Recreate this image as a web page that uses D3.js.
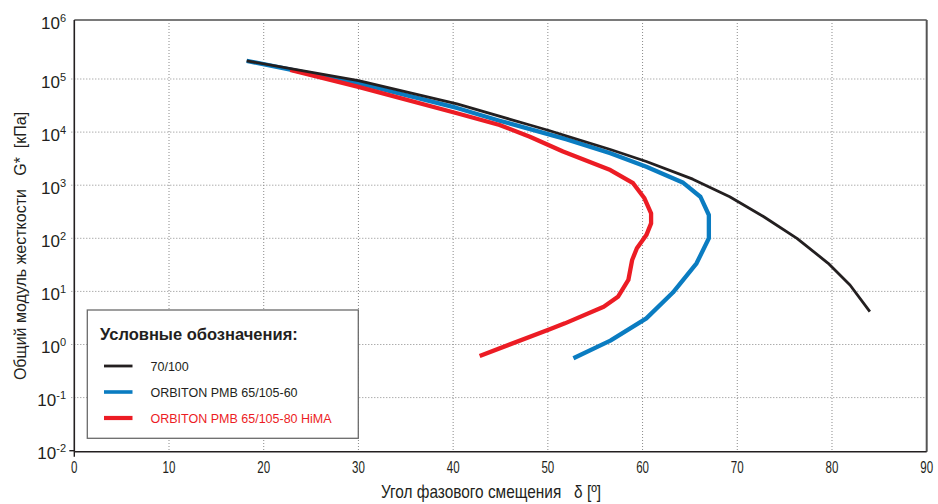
<!DOCTYPE html>
<html>
<head>
<meta charset="utf-8">
<script src="https://cdn.jsdelivr.net/npm/d3@7"></script>
<style>
  body { margin: 0; background: #fff; }
  svg { display: block; }
  text { font-family: "Liberation Sans", Arial, sans-serif; fill: #231f20; }
</style>
</head>
<body>
<svg id="chart" width="938" height="504"></svg>
<script>
// Phase angle δ [°] and complex modulus G* [kPa] for each binder
const seriesNames = ["70/100", "ORBITON PMB 65/105-60", "ORBITON PMB 65/105-80 HiMA"];
const seriesColors = ["#231f20", "#0a7cc1", "#ec1c24"];

const delta70100 = [18.2, 30.0, 40.4, 48.1, 50.2, 56.6, 60.4, 65.3, 69.2, 72.8, 76.3, 79.6, 81.9, 84.0];
const g70100     = [2.2e5, 9.3e4, 3.4e4, 1.36e4, 1.06e4, 4.7e3, 2.8e3, 1.3e3, 607, 255, 100, 33.8, 13.2, 4.15];

const deltaPmb60 = [18.2, 29.9, 40.4, 44.9, 52.0, 56.6, 60.4, 64.3, 66.1, 67.0, 67.0, 65.7, 63.2, 60.4, 56.6, 52.7];
const gPmb60     = [2.2e5, 8.4e4, 2.85e4, 1.64e4, 7.3e3, 4.0e3, 2.23e3, 1.11e3, 607, 275, 100, 33.8, 9.5, 3.1, 1.18, 0.55];

const deltaHima  = [22.8, 29.9, 40.4, 44.9, 48.1, 51.6, 56.6, 59.0, 60.2, 60.9, 60.9, 60.4, 59.4, 58.9, 58.5, 57.4, 55.9, 51.8, 50.2, 42.8];
const gHima      = [1.48e5, 7.2e4, 2.26e4, 1.36e4, 8.2e3, 4.3e3, 1.93e3, 1.09e3, 566, 296, 191, 115, 65, 39, 16.4, 7.9, 5.15, 2.5, 1.93, 0.61];

const xTicks = [0, 10, 20, 30, 40, 50, 60, 70, 80, 90];
const yExponents = [-2, -1, 0, 1, 2, 3, 4, 5, 6];

const xTitle = "Угол фазового смещения   δ [º]";
const yTitle = "Общий модуль жесткости   G*  [кПа]";
const legendTitle = "Условные обозначения:";

const svg = d3.select("#chart");
const frame = { left: 74.3, right: 926.7, top: 20, bottom: 451.7 };

const x = d3.scaleLinear().domain([0, 90]).range([frame.left, frame.right]);
const y = d3.scaleLog().domain([1e-2, 1e6]).range([450.7, 25.9]);

// dotted grid
const grid = svg.append("g").attr("stroke", "#8a8a8a").attr("stroke-width", 1).attr("stroke-dasharray", "1,2");
grid.selectAll("line.v").data(xTicks.filter(d => d > 0 && d < 90)).join("line")
  .attr("x1", d => x(d)).attr("x2", d => x(d))
  .attr("y1", frame.top).attr("y2", frame.bottom);
grid.selectAll("line.h").data(yExponents.filter(e => e > -2 && e < 6)).join("line")
  .attr("x1", frame.left - 3).attr("x2", frame.right)
  .attr("y1", e => y(Math.pow(10, e))).attr("y2", e => y(Math.pow(10, e)));

// frame: grey top/right, black axes left/bottom
svg.append("line").attr("x1", frame.left).attr("x2", frame.right).attr("y1", frame.top).attr("y2", frame.top)
  .attr("stroke", "#7a7a7a").attr("stroke-width", 2);
svg.append("line").attr("x1", frame.right).attr("x2", frame.right).attr("y1", frame.top).attr("y2", frame.bottom)
  .attr("stroke", "#555").attr("stroke-width", 2);
svg.append("line").attr("x1", frame.left).attr("x2", frame.left).attr("y1", frame.top).attr("y2", frame.bottom)
  .attr("stroke", "#231f20").attr("stroke-width", 1.6);
svg.append("line").attr("x1", frame.left).attr("x2", frame.right).attr("y1", frame.bottom).attr("y2", frame.bottom)
  .attr("stroke", "#231f20").attr("stroke-width", 1.6);
// corner ticks
svg.append("line").attr("x1", x(0)).attr("x2", x(0)).attr("y1", frame.bottom).attr("y2", frame.bottom + 5)
  .attr("stroke", "#231f20").attr("stroke-width", 1.4);
svg.append("line").attr("x1", frame.left - 5).attr("x2", frame.left).attr("y1", y(1e-2)).attr("y2", y(1e-2))
  .attr("stroke", "#231f20").attr("stroke-width", 1.4);

// x tick labels (condensed face)
svg.append("g").selectAll("text").data(xTicks).join("text")
  .attr("transform", d => `translate(${x(d)},473) scale(0.7,1)`)
  .attr("text-anchor", "middle").attr("font-size", 16.5)
  .text(d => d);

// y tick labels: 10 with superscript exponent (top label sits on the frame)
const yLab = svg.append("g").selectAll("text").data(yExponents).join("text")
  .attr("x", 66).attr("text-anchor", "end").attr("font-size", 17)
  .attr("y", e => (e === 6 ? frame.top : y(Math.pow(10, e))) + 8.5);
yLab.append("tspan").text("10");
yLab.append("tspan").attr("dy", -7).attr("font-size", 11).text(e => e < 0 ? "-" + (-e) : e);

// axis titles
svg.append("text")
  .attr("transform", "translate(491,498) scale(0.88,1)")
  .attr("text-anchor", "middle").attr("font-size", 17.5)
  .style("white-space", "pre").text(xTitle);
svg.append("text")
  .attr("transform", "translate(26,246) rotate(-90)")
  .attr("text-anchor", "middle").attr("font-size", 16)
  .style("white-space", "pre").text(yTitle);

// curves
const line = d3.line().x(d => x(d[0])).y(d => y(d[1])).curve(d3.curveLinear);
const curves = [
  { delta: deltaPmb60, g: gPmb60, color: seriesColors[1], w: 4.3 },
  { delta: deltaHima, g: gHima, color: seriesColors[2], w: 4.3 },
  { delta: delta70100, g: g70100, color: seriesColors[0], w: 2.8 }
];
svg.append("g").selectAll("path").data(curves).join("path")
  .attr("d", c => line(d3.zip(c.delta, c.g)))
  .attr("fill", "none").attr("stroke", c => c.color).attr("stroke-width", c => c.w)
  .attr("stroke-linejoin", "round").attr("stroke-linecap", "butt");

// legend
const lg = svg.append("g");
lg.append("rect").attr("x", 87.3).attr("y", 310).attr("width", 271).attr("height", 128.3)
  .attr("fill", "#fff").attr("stroke", "#6b6b6b").attr("stroke-width", 1.3);
lg.append("text").attr("x", 100).attr("y", 340).attr("font-size", 16.5).attr("font-weight", "bold")
  .text(legendTitle);
const legendWidths = [2.8, 3.6, 4.2];
const rows = lg.selectAll("g.row").data(seriesNames).join("g")
  .attr("transform", (d, i) => `translate(0,${366 + i * 26})`);
rows.append("line").attr("x1", 104).attr("x2", 132.5).attr("y1", 0).attr("y2", 0)
  .attr("stroke", (d, i) => seriesColors[i]).attr("stroke-width", (d, i) => legendWidths[i]);
rows.append("text").attr("x", 150.5).attr("y", 4.5).attr("font-size", 12.5)
  .style("fill", (d, i) => i === 2 ? seriesColors[2] : "#231f20")
  .text(d => d);
</script>
</body>
</html>
